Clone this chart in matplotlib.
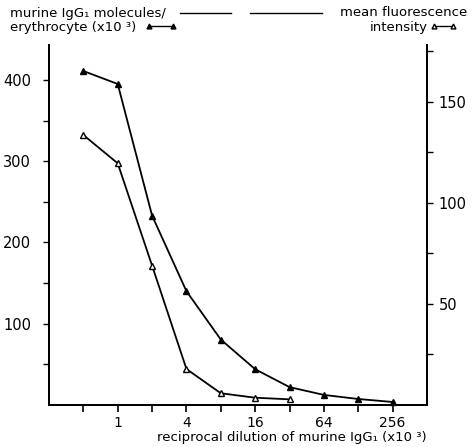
import matplotlib
matplotlib.use("Agg")
import matplotlib.pyplot as plt
from matplotlib.lines import Line2D

# Data
dilution_filled = [0.5, 1, 2, 4, 8, 16, 32, 64, 128, 256]
molecules_per_erythrocyte = [411, 395, 233, 140, 80.5, 44, 22, 12.4, 7.4, 3.7]
dilution_open = [0.5, 1, 2, 4, 8, 16, 32]
mean_fluorescence = [133.5, 119.5, 68.9, 17.8, 5.8, 3.6, 2.8]
x_ticks = [0.5, 1, 2, 4, 8, 16, 32, 64, 128, 256]
x_tick_labels = ["", "1", "", "4", "", "16", "", "64", "", "256"]
left_major = [100, 200, 300, 400]
left_minor = [50, 150, 250, 350]
right_major = [50, 100, 150]
right_minor = [25, 75, 125, 175]

plt.rcParams['font.family'] = ['DejaVu Sans']
fig = plt.figure(figsize=(4.76, 4.47), dpi=100)
W, H = 476, 447
L, R, B, T = 49, 427, 405, 45
ax = fig.add_axes([L / W, 1 - B / H, (R - L) / W, (B - T) / H])
ax2 = ax.twinx()

ax.set_xscale('log', base=2)
ax.set_xlim(0.25, 512)
ax.set_ylim(0, 443)
ax2.set_ylim(0, 178)

ax.plot(dilution_filled, molecules_per_erythrocyte, color='black', lw=1.3,
        marker='^', ms=5, mfc='black', mec='black', clip_on=False)
ax2.plot(dilution_open, mean_fluorescence, color='black', lw=1.3,
         marker='^', ms=5, mfc='white', mec='black', mew=1.0, clip_on=False)

for a in (ax, ax2):
    a.spines['top'].set_visible(False)
    for s in ('left', 'right', 'bottom'):
        a.spines[s].set_linewidth(1.4)
        a.spines[s].set_color('black')

ax.set_xticks(x_ticks)
ax.set_xticklabels(x_tick_labels)
ax.xaxis.set_minor_locator(matplotlib.ticker.NullLocator())
ax.set_yticks(left_major)
ax.set_yticks(left_minor, minor=True)
ax2.set_yticks(right_major)
ax2.set_yticks(right_minor, minor=True)

ax.tick_params(axis='x', direction='out', length=5, width=1.2, labelsize=10, pad=3)
ax.tick_params(axis='y', which='both', direction='out', length=4, width=1.0, labelsize=10.5, pad=9)
ax2.tick_params(axis='y', which='both', direction='out', length=4, width=1.0, labelsize=10.5, pad=4.5)

fs = 9.5
fig.text(427 / W, 1 - 438 / H, "reciprocal dilution of murine IgG\u2081 (x10 \u00b3)",
         fontsize=fs, va='center', ha='right')

# Header texts
fig.text(10 / W, 1 - 13 / H, "murine IgG\u2081 molecules/", fontsize=fs, va='center', ha='left')
fig.text(10 / W, 1 - 27 / H, "erythrocyte (x10 \u00b3)", fontsize=fs, va='center', ha='left')
fig.text(467 / W, 1 - 13 / H, "mean fluorescence", fontsize=fs, va='center', ha='right')
fig.text(428 / W, 1 - 27 / H, "intensity", fontsize=fs, va='center', ha='right')

fig.add_artist(Line2D([180 / W, 231 / W], [1 - 13 / H, 1 - 13 / H], color='black', lw=1.0))
fig.add_artist(Line2D([250 / W, 322 / W], [1 - 13 / H, 1 - 13 / H], color='black', lw=1.0))
fig.add_artist(Line2D([149 / W, 173 / W], [1 - 26 / H, 1 - 26 / H], color='black', lw=1.0,
                      marker='^', ms=3.5, mfc='black', mec='black'))
fig.add_artist(Line2D([434 / W, 453 / W], [1 - 26 / H, 1 - 26 / H], color='black', lw=1.0,
                      marker='^', ms=3.5, mfc='white', mec='black'))

fig.savefig("out.png", dpi=100)
